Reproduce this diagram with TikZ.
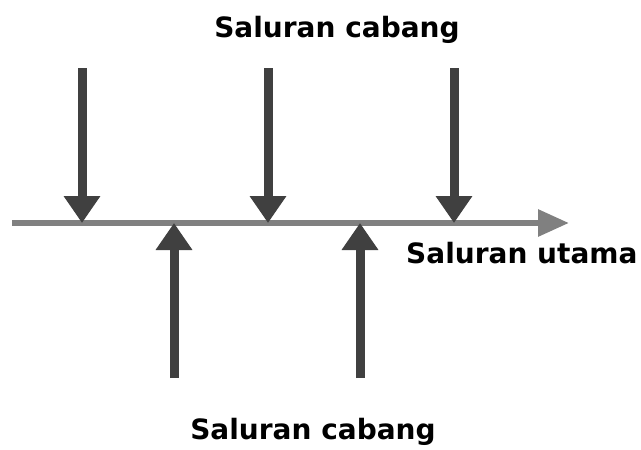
\documentclass[tikz,border=0pt]{standalone}
\usepackage{fontspec}
\setmainfont{DejaVu Sans}
\usetikzlibrary{arrows.meta}
\definecolor{maingray}{HTML}{808080}
\definecolor{branchgray}{HTML}{404040}
\tikzset{
  mainflow/.style={draw=maingray, line width=6pt, -{Triangle[width=26pt,length=31pt]}},
  branchflow/.style={draw=branchgray, line width=9pt, -{Triangle[width=35pt,length=27pt]}},
  lbl/.style={font=\bfseries\fontsize{28}{30}\selectfont, inner sep=0pt}
}
\begin{document}
\begin{tikzpicture}[x=1pt, y=-1pt]
\useasboundingbox (0,0) rectangle (641,450);
% Main channel
\coordinate (mainstart) at (12,223);
\coordinate (mainend) at (569,223);
\draw[mainflow] (mainstart) -- (mainend);

% Branch ends on the main line
\coordinate (j1) at (82,223);
\coordinate (j2) at (268,223);
\coordinate (j3) at (454,223);
\coordinate (j4) at (174,223);
\coordinate (j5) at (360,223);

% Branches from above
\coordinate (t1) at (82,68);
\coordinate (t2) at (268,68);
\coordinate (t3) at (454,68);
\draw[branchflow] (t1) -- (j1);
\draw[branchflow] (t2) -- (j2);
\draw[branchflow] (t3) -- (j3);

% Branches from below
\coordinate (b1) at (174,378);
\coordinate (b2) at (360,378);
\draw[branchflow] (b1) -- (j4);
\draw[branchflow] (b2) -- (j5);

% Labels
\node[lbl, anchor=base] (topcab) at (337,37) {Saluran cabang};
\node[lbl, anchor=base west] (utama) at (406,263) {Saluran utama};
\node[lbl, anchor=base] (botcab) at (313,439) {Saluran cabang};
\end{tikzpicture}
\end{document}
